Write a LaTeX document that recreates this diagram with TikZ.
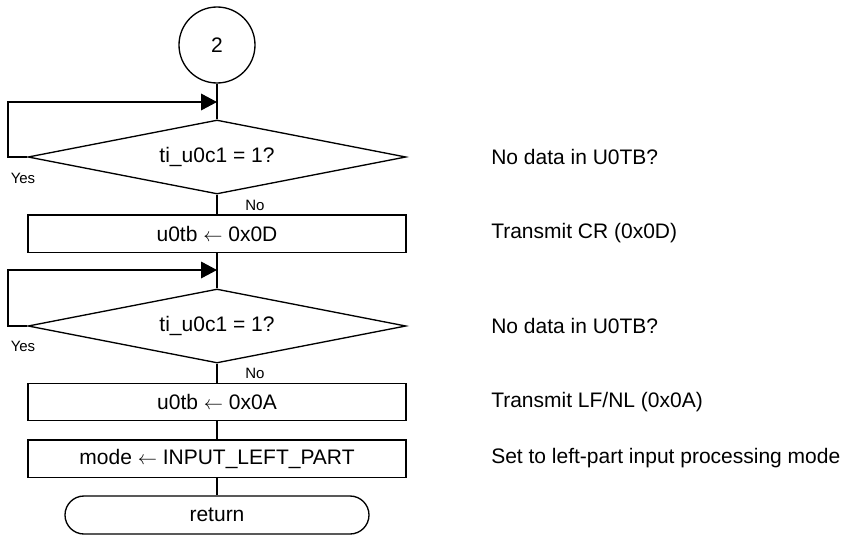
\documentclass[tikz,border=0pt]{standalone}
\usepackage{fontspec}
\setmainfont{Liberation Sans}
\usetikzlibrary{shapes.geometric,arrows.meta}
\begin{document}
\begin{tikzpicture}[x=0.75pt,y=-0.75pt,
  every node/.style={font=\fontsize{15.75}{18}\selectfont},
  flow/.style={line width=1pt},
  connector/.style={draw=black,circle,line width=1pt,minimum size=57pt,inner sep=0pt},
  decision/.style={draw=black,diamond,aspect=5.1,line width=1pt,minimum width=283.5pt,minimum height=55.5pt,inner sep=0pt},
  process/.style={draw=black,rectangle,line width=1pt,minimum width=283.5pt,minimum height=28pt,inner sep=0pt},
  terminal/.style={draw=black,rectangle,rounded corners=14.25pt,line width=1pt,minimum width=228pt,minimum height=28.5pt,inner sep=0pt},
  branch/.style={font=\fontsize{11.25}{13}\selectfont,inner sep=0pt},
  note/.style={anchor=west,inner sep=0pt},
  tip/.style={-{Triangle[length=12pt,width=12.5pt]}}]
\useasboundingbox (0,0) rectangle (847,536);

% flow chart body
\node[connector] (c2) at (217,45) {2};
\node[decision] (d1) at (217,157) {ti\_u0c1 = 1?};
\node[process] (p1) at (217,233.5) {u0tb $\leftarrow$ 0x0D};
\node[decision] (d2) at (217,326) {ti\_u0c1 = 1?};
\node[process] (p2) at (217,402) {u0tb $\leftarrow$ 0x0A};
\node[process] (p3) at (217,458.5) {mode $\leftarrow$ INPUT\_LEFT\_PART};
\node[terminal] (ret) at (217,515) {return};

% loop-back points
\coordinate (j1) at (217,102);
\coordinate (l1) at (8,157);
\coordinate (j2) at (217,270);
\coordinate (l2) at (8,326);

% connectors
\draw[flow] (c2.south) -- (d1.north);
\draw[flow] (d1.south) -- (p1.north);
\draw[flow] (p1.south) -- (d2.north);
\draw[flow] (d2.south) -- (p2.north);
\draw[flow] (p2.south) -- (p3.north);
\draw[flow] (p3.south) -- (ret.north);
\draw[flow,tip] (d1.west) -- (l1) |- (j1);
\draw[flow,tip] (d2.west) -- (l2) |- (j2);

% branch labels
\node[branch] (y1) at (23,178) {Yes};
\node[branch] (n1) at (255,205) {No};
\node[branch] (y2) at (23,346) {Yes};
\node[branch] (n2) at (255,373) {No};

% comments
\node[note] (t1) at (491,157) {No data in U0TB?};
\node[note] (t2) at (491,233.5) {Transmit CR (0x0D)};
\node[note] (t3) at (491,326) {No data in U0TB?};
\node[note] (t4) at (491,402) {Transmit LF/NL (0x0A)};
\node[note] (t5) at (491,458.5) {Set to left-part input processing mode};
\end{tikzpicture}
\end{document}
